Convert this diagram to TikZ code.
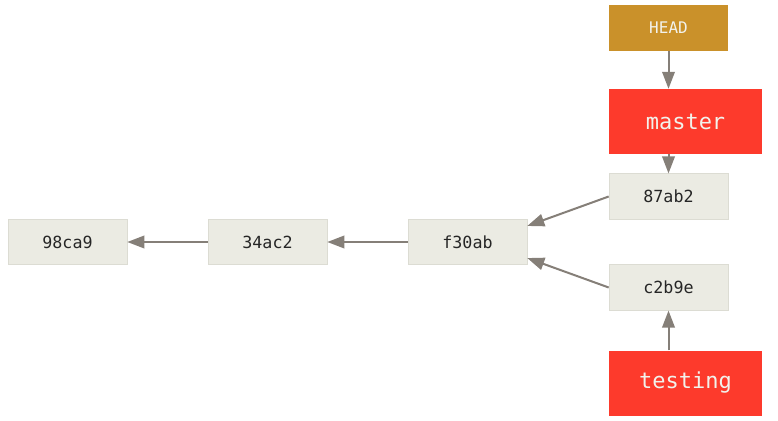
\documentclass[tikz,border=0pt]{standalone}
\usepackage{fontspec}
\newfontfamily\codefont{DejaVu Sans Mono}
\usetikzlibrary{arrows.meta}
\definecolor{commitfill}{HTML}{EBEBE3}
\definecolor{commitline}{HTML}{DCDCD3}
\definecolor{headfill}{HTML}{CA912A}
\definecolor{branchfill}{HTML}{FD3A2C}
\definecolor{reftext}{HTML}{F2F2EC}
\definecolor{committext}{HTML}{262626}
\definecolor{link}{HTML}{857F78}
\tikzset{
  commit/.style={draw=commitline, line width=0.6pt, fill=commitfill, text=committext,
    minimum width=119pt, minimum height=45.5pt, inner sep=0pt,
    font=\codefont\fontsize{16.7}{20}\selectfont},
  headref/.style={fill=headfill, text=reftext, minimum width=119pt, minimum height=46pt,
    inner sep=0pt, font=\codefont\fontsize{16}{19}\selectfont},
  branch/.style={fill=branchfill, text=reftext, minimum width=153pt, minimum height=65pt,
    inner sep=0pt, font=\codefont\fontsize{22}{26}\selectfont},
  pointer/.style={draw=link, line width=2pt, -{Triangle[length=17pt,width=12.5pt]}}
}
\begin{document}
\begin{tikzpicture}[x=1pt,y=-1pt]
  \useasboundingbox (0,0) rectangle (778,420);
  % references
  \node[headref] (head) at (668.5,28) {HEAD};
  \node[branch] (master) at (685.5,121.5) {master};
  \node[branch] (testing) at (685.5,383) {testing};
  % commits
  \node[commit] (c87) at (668.5,196.5) {87ab2};
  \node[commit] (c2b) at (668.5,287.5) {c2b9e};
  \node[commit] (f30) at (467.5,242) {f30ab};
  \node[commit] (c34) at (267.5,242) {34ac2};
  \node[commit] (c98) at (67.5,242) {98ca9};
  % pointers
  \draw[pointer] (head.south) -- (head.south |- master.north);
  \draw[pointer] (c87.north |- master.south) -- (c87.north);
  \draw[pointer] (c2b.south |- testing.north) -- (c2b.south);
  % parent links
  \draw[pointer] (c87.west) -- ([yshift=-7pt]f30.north east);
  \draw[pointer] (c2b.west) -- ([yshift=7pt]f30.south east);
  \draw[pointer] (f30.west) -- (c34.east);
  \draw[pointer] (c34.west) -- (c98.east);
\end{tikzpicture}
\end{document}
